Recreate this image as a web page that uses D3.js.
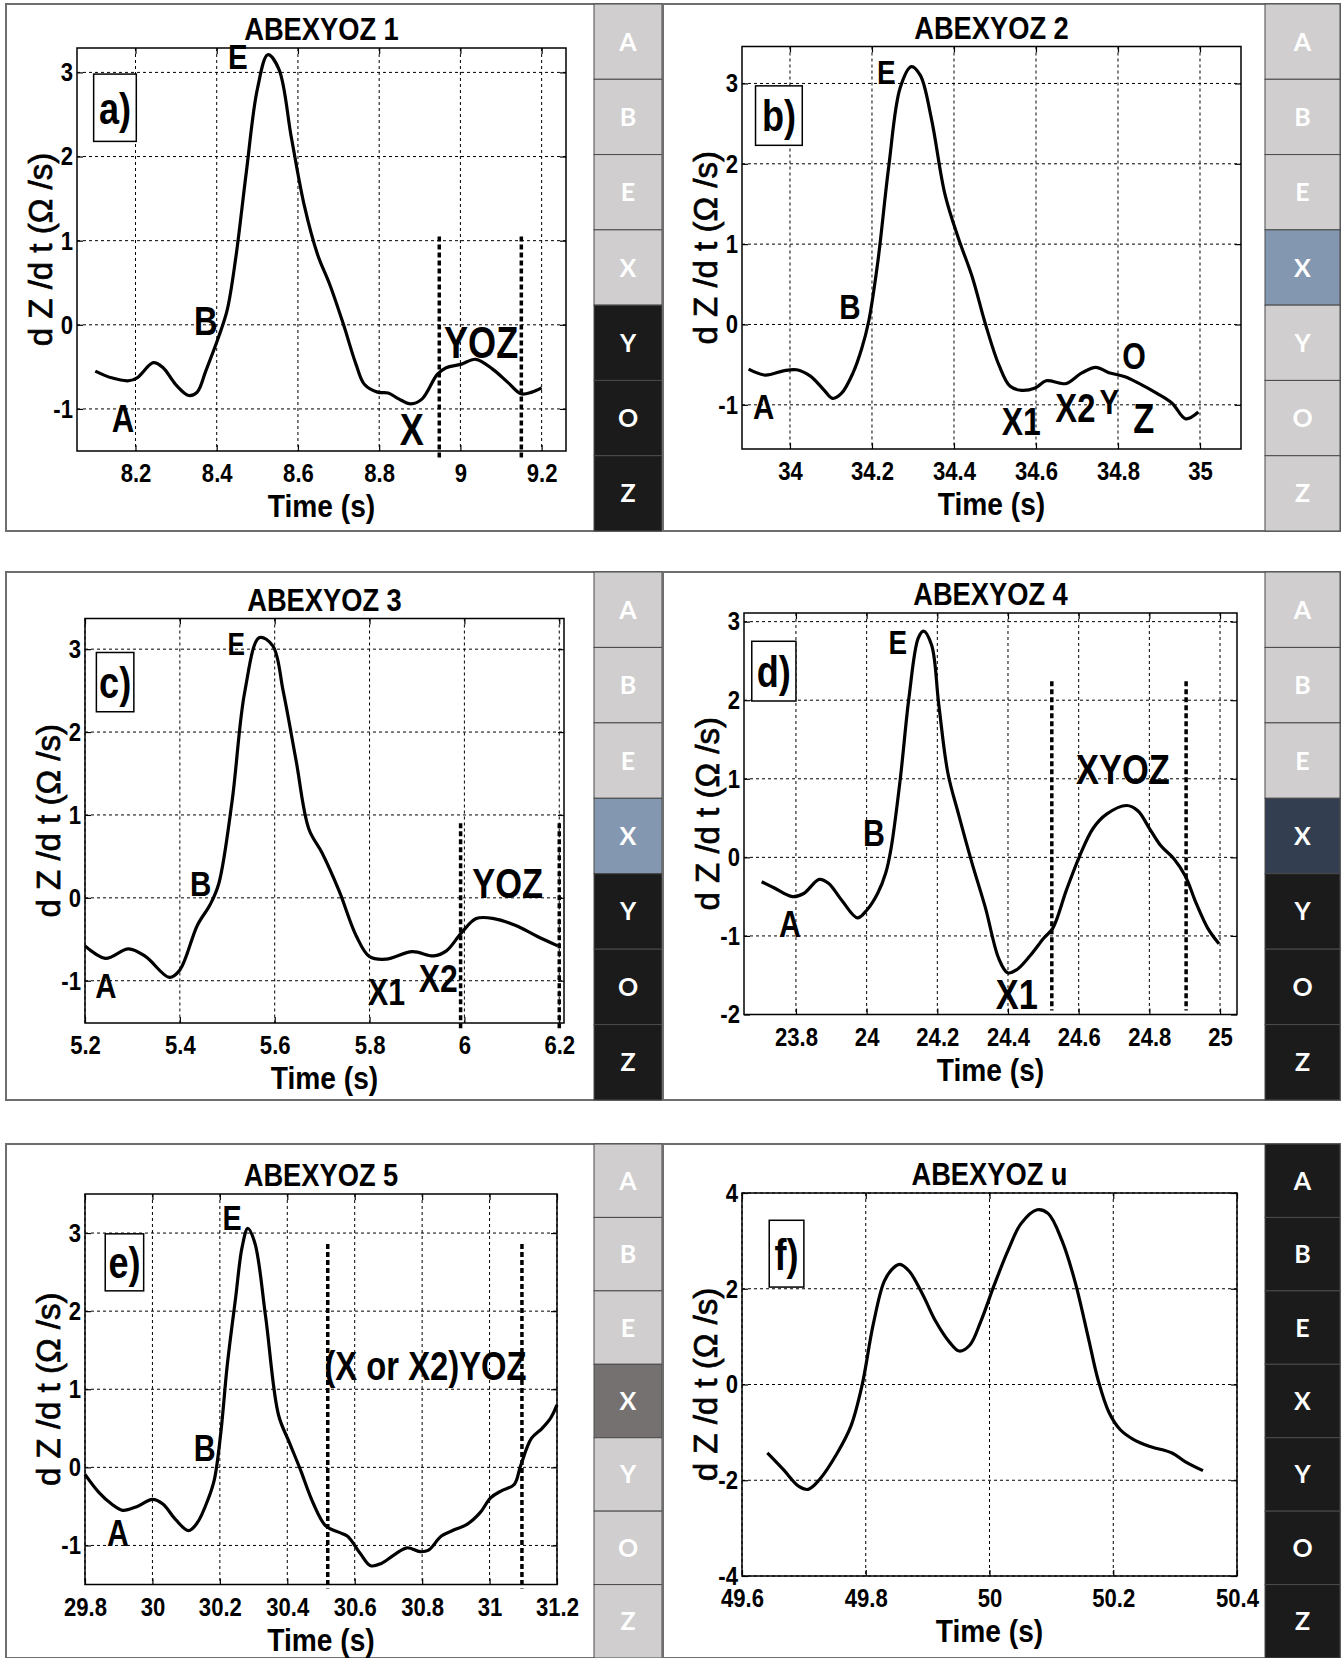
<!DOCTYPE html>
<html>
<head>
<meta charset="utf-8">
<script src="https://cdn.jsdelivr.net/npm/d3@7"></script>
<style>
  body { margin: 0; background: #fff; }
  svg { display: block; }
</style>
</head>
<body>
<div id="chart"></div>
<script>
// ---- curves (time in s, dZ/dt in ohm/s) ----
const tA = [8.101,8.141,8.183,8.204,8.244,8.268,8.299,8.331,8.352,8.373,8.405,8.426,8.447,8.473,8.5,8.526,8.553,8.584,8.616,8.648,8.679,8.711,8.743,8.764,8.796,8.822,8.848,8.878,8.906,8.943,8.965,9.001,9.038,9.08,9.118,9.149,9.176,9.2];
const zA = [-0.55,-0.63,-0.665,-0.63,-0.45,-0.51,-0.71,-0.84,-0.80,-0.55,-0.14,0.18,0.80,1.82,2.80,3.21,3.04,2.22,1.41,0.84,0.47,0.02,-0.47,-0.71,-0.80,-0.81,-0.88,-0.94,-0.88,-0.59,-0.51,-0.47,-0.41,-0.53,-0.69,-0.82,-0.80,-0.75];

const tB = [33.899,33.94,33.984,34.016,34.049,34.082,34.104,34.126,34.154,34.175,34.192,34.214,34.241,34.269,34.296,34.318,34.345,34.378,34.411,34.444,34.477,34.51,34.537,34.565,34.598,34.625,34.658,34.674,34.713,34.746,34.778,34.817,34.85,34.894,34.932,34.965,34.996];
const zB = [-0.556,-0.63,-0.577,-0.564,-0.64,-0.81,-0.92,-0.855,-0.60,-0.30,0.04,0.77,1.97,2.95,3.21,3.10,2.56,1.62,1.07,0.60,0.0,-0.51,-0.77,-0.82,-0.79,-0.70,-0.73,-0.735,-0.60,-0.534,-0.60,-0.65,-0.73,-0.855,-0.98,-1.175,-1.09];

const tC = [5.2,5.243,5.292,5.328,5.378,5.4,5.437,5.464,5.482,5.51,5.537,5.568,5.596,5.618,5.645,5.672,5.7,5.736,5.772,5.8,5.835,5.89,5.935,5.962,5.994,6.025,6.062,6.107,6.152,6.197];
const zC = [-0.58,-0.73,-0.615,-0.71,-0.96,-0.87,-0.33,-0.08,0.17,1.16,2.49,3.14,3.04,2.49,1.66,0.83,0.54,0.08,-0.46,-0.71,-0.74,-0.65,-0.7,-0.64,-0.42,-0.25,-0.25,-0.33,-0.46,-0.58];

const tD = [23.703,23.739,23.79,23.822,23.866,23.892,23.93,23.974,23.999,24.031,24.054,24.069,24.095,24.12,24.146,24.161,24.184,24.204,24.23,24.26,24.298,24.336,24.374,24.399,24.425,24.463,24.501,24.527,24.565,24.603,24.641,24.679,24.736,24.768,24.8,24.832,24.87,24.902,24.933,24.965,24.997];
const zD = [-0.31,-0.39,-0.50,-0.46,-0.28,-0.33,-0.55,-0.77,-0.68,-0.46,-0.20,0.11,0.99,2.04,2.79,2.88,2.70,1.95,1.07,0.55,-0.07,-0.64,-1.29,-1.47,-1.43,-1.25,-1.03,-0.90,-0.42,0.02,0.37,0.55,0.66,0.59,0.37,0.15,-0.02,-0.24,-0.59,-0.90,-1.10];

const tE = [29.8,29.841,29.879,29.911,29.955,30.0,30.031,30.069,30.107,30.133,30.165,30.184,30.203,30.222,30.247,30.266,30.283,30.304,30.336,30.374,30.406,30.438,30.476,30.514,30.552,30.578,30.616,30.647,30.679,30.717,30.755,30.794,30.819,30.857,30.895,30.933,30.972,31.003,31.035,31.073,31.092,31.124,31.156,31.181,31.2];
const zE = [-0.09,-0.32,-0.47,-0.55,-0.50,-0.41,-0.47,-0.67,-0.81,-0.71,-0.41,-0.15,0.45,1.31,2.18,2.82,3.06,2.87,1.92,0.67,0.32,-0.02,-0.45,-0.75,-0.83,-0.88,-1.10,-1.26,-1.23,-1.12,-1.03,-1.08,-1.06,-0.88,-0.80,-0.73,-0.58,-0.39,-0.30,-0.22,0.02,0.37,0.50,0.63,0.80];

const tF = [49.641,49.667,49.692,49.707,49.725,49.754,49.776,49.794,49.812,49.83,49.845,49.855,49.87,49.892,49.913,49.935,49.951,49.968,49.986,50.008,50.03,50.051,50.077,50.095,50.117,50.138,50.16,50.175,50.193,50.211,50.233,50.258,50.295,50.316,50.345];
const zF = [-1.43,-1.78,-2.13,-2.19,-1.99,-1.43,-0.87,-0.02,1.25,2.16,2.44,2.51,2.37,1.88,1.32,0.89,0.70,0.82,1.32,2.09,2.80,3.36,3.65,3.57,3.01,2.16,0.96,0.12,-0.58,-0.94,-1.15,-1.29,-1.43,-1.61,-1.80];

// ---- titles and tick labels ----
const titles = ["ABEXYOZ 1", "ABEXYOZ 2", "ABEXYOZ 3", "ABEXYOZ 4", "ABEXYOZ 5", "ABEXYOZ u"];
const tags = ["a)", "b)", "c)", "d)", "e)", "f)"];
const xTicksA = [8.2, 8.4, 8.6, 8.8, 9, 9.2];
const xTicksB = [34, 34.2, 34.4, 34.6, 34.8, 35];
const xTicksC = [5.2, 5.4, 5.6, 5.8, 6, 6.2];
const xTicksD = [23.8, 24, 24.2, 24.4, 24.6, 24.8, 25];
const xTicksE = [29.8, 30, 30.2, 30.4, 30.6, 30.8, 31, 31.2];
const xTicksF = [49.6, 49.8, 50, 50.2, 50.4];
const yTicks3 = [-1, 0, 1, 2, 3];
const yTicksD = [-2, -1, 0, 1, 2, 3];
const yTicksF = [-4, -2, 0, 2, 4];

// ---- point labels: [text, time, dZ/dt] (text baseline) ----
const notesA = [["E", 8.452, 3.04], ["B", 8.373, -0.12], ["A", 8.169, -1.27], ["X", 8.88, -1.43], ["YOZ", 9.051, -0.39]];
const notesB = [["E", 34.235, 2.99], ["B", 34.146, 0.064], ["A", 33.936, -1.175], ["X1", 34.564, -1.37], ["X2", 34.696, -1.22], ["Y", 34.779, -1.11], ["O", 34.839, -0.556], ["Z", 34.863, -1.346]];
const notesC = [["E", 5.519, 2.93], ["B", 5.444, 0.02], ["A", 5.244, -1.21], ["X1", 5.836, -1.29], ["X2", 5.945, -1.14], ["YOZ", 6.091, 0.0]];
const notesD = [["E", 24.088, 2.59], ["B", 24.021, 0.15], ["A", 23.783, -1.01], ["X1", 24.425, -1.93], ["XYOZ", 24.725, 0.94]];
const notesE = [["E", 30.236, 3.04], ["B", 30.155, 0.086], ["A", 29.898, -1.01], ["(X or X2)YOZ", 30.81, 1.12]];
const notesF = [];

// ---- vertical interval markers: times, and the dZ/dt span they cover ----
const marksA = [8.948, 9.15],   spanA = [1.05, -1.58];
const marksC = [5.992, 6.2],    spanC = [0.9, -1.6];
const marksD = [24.524, 24.904], spanD = [2.24, -1.95];
const marksE = [30.52, 31.096], spanE = [2.86, -1.55];

// ---- panel tag boxes: [t0, t1, z0, z1] ----
const tagBoxA = [8.097, 8.202, 2.98, 2.18];
const tagBoxB = [33.916, 34.03, 2.97, 2.23];
const tagBoxC = [5.224, 5.303, 2.96, 2.245];
const tagBoxD = [23.675, 23.8, 2.75, 1.99];
const tagBoxE = [29.86, 29.974, 2.99, 2.26];
const tagBoxF = [49.644, 49.7, 3.43, 2.035];

// ---- ABEXYOZ side strips: state of each letter ----
const stripLetters = ["A", "B", "E", "X", "Y", "O", "Z"];
const stripA = ["off", "off", "off", "off", "on", "on", "on"];
const stripB = ["off", "off", "off", "blue", "off", "off", "off"];
const stripC = ["off", "off", "off", "blue", "on", "on", "on"];
const stripD = ["off", "off", "off", "navy", "on", "on", "on"];
const stripE = ["off", "off", "off", "grey", "off", "off", "off"];
const stripF = ["on", "on", "on", "on", "on", "on", "on"];

// ---- styling / layout ----
const stateColor = { off: "#d0cece", on: "#1b1b1b", blue: "#8497b0", navy: "#333f50", grey: "#767171" };
// no Arial Narrow installed: squeeze Liberation Sans Bold horizontally
const NARROW = "'Liberation Sans', Arial, sans-serif";
const SQUEEZE = 0.82;
const noteSizes = {
  a: [36, 40, 38, 44, 44],
  b: [34, 36, 36, 39, 40, 36, 37, 42],
  c: [32, 36, 36, 37, 39, 42],
  d: [34, 37, 37, 42, 42],
  e: [35, 37, 37, 40],
  f: []
};

const panels = [
  { id: "a", t: tA, z: zA, xTicks: xTicksA, yTicks: yTicks3, xDomain: [8.056, 9.26], yDomain: [-1.5, 3.29],
    notes: notesA, marks: marksA, span: spanA, tagBox: tagBoxA, strip: stripA,
    frame: [6, 4, 662, 531], stripX: 594, plot: [77, 48, 566, 451] },
  { id: "b", t: tB, z: zB, xTicks: xTicksB, yTicks: yTicks3, xDomain: [33.883, 35.1], yDomain: [-1.55, 3.46],
    notes: notesB, marks: [], span: null, tagBox: tagBoxB, strip: stripB,
    frame: [663, 4, 1340, 531], stripX: 1265, plot: [742, 46.5, 1241, 449] },
  { id: "c", t: tC, z: zC, xTicks: xTicksC, yTicks: yTicks3, xDomain: [5.2, 6.21], yDomain: [-1.51, 3.37],
    notes: notesC, marks: marksC, span: spanC, tagBox: tagBoxC, strip: stripC,
    frame: [6, 572, 662, 1100], stripX: 594, plot: [85, 618.5, 564, 1023] },
  { id: "d", t: tD, z: zD, xTicks: xTicksD, yTicks: yTicksD, xDomain: [23.653, 25.048], yDomain: [-2, 3.11],
    notes: notesD, marks: marksD, span: spanD, tagBox: tagBoxD, strip: stripD,
    frame: [663, 572, 1340, 1100], stripX: 1265, plot: [744, 613, 1237, 1014.5] },
  { id: "e", t: tE, z: zE, xTicks: xTicksE, yTicks: yTicks3, xDomain: [29.8, 31.2], yDomain: [-1.5, 3.5],
    notes: notesE, marks: marksE, span: spanE, tagBox: tagBoxE, strip: stripE,
    frame: [6, 1144, 662, 1658], stripX: 594, plot: [85, 1194, 557, 1584.5] },
  { id: "f", t: tF, z: zF, xTicks: xTicksF, yTicks: yTicksF, xDomain: [49.6, 50.4], yDomain: [-4, 4],
    notes: notesF, marks: [], span: null, tagBox: tagBoxF, strip: stripF,
    frame: [663, 1144, 1340, 1658], stripX: 1265, plot: [742, 1193, 1237, 1576] }
];

const W = 1344, H = 1658;
const svg = d3.select("#chart").append("svg")
  .attr("width", W)
  .attr("height", H)
  .style("background", "#fff");

const fmtX = d => String(+d.toFixed(1));

// bold condensed text placed at (x, y)
function narrowText(parent, x, y, size, str, squeeze = SQUEEZE) {
  return parent.append("text")
    .attr("transform", `translate(${x},${y}) scale(${squeeze},1)`)
    .attr("text-anchor", "middle")
    .attr("font-family", NARROW)
    .attr("font-weight", "bold")
    .attr("font-size", size)
    .attr("fill", "#000")
    .text(str);
}

panels.forEach((p, i) => {
  const [fx0, fy0, fx1, fy1] = p.frame;
  const [L, T, R, B] = p.plot;
  const g = svg.append("g").attr("class", "panel-" + p.id);

  // panel frame
  g.append("rect")
    .attr("x", fx0).attr("y", fy0)
    .attr("width", fx1 - fx0).attr("height", fy1 - fy0)
    .attr("fill", "#fff")
    .attr("stroke", "#6e6e6e")
    .attr("stroke-width", 2);

  // side strip
  const cellH = (fy1 - fy0) / stripLetters.length;
  const cells = g.append("g").selectAll("g")
    .data(stripLetters.map((l, k) => ({ letter: l, state: p.strip[k], k })))
    .join("g");
  cells.append("rect")
    .attr("x", p.stripX)
    .attr("y", d => fy0 + d.k * cellH)
    .attr("width", fx1 - p.stripX)
    .attr("height", cellH)
    .attr("fill", d => stateColor[d.state])
    .attr("stroke", "#4a4a4a")
    .attr("stroke-width", 1);
  cells.append("text")
    .attr("x", (p.stripX + fx1) / 2)
    .attr("y", d => fy0 + (d.k + 0.5) * cellH)
    .attr("dy", "0.36em")
    .attr("text-anchor", "middle")
    .attr("font-family", "Lato, 'Open Sans', sans-serif")
    .attr("font-weight", "bold")
    .attr("font-size", 25)
    .attr("fill", "#fff")
    .text(d => d.letter);

  const x = d3.scaleLinear().domain(p.xDomain).range([L, R]);
  const y = d3.scaleLinear().domain(p.yDomain).range([B, T]);

  // grid
  const grid = g.append("g").attr("stroke", "#000").attr("stroke-width", 1).attr("stroke-dasharray", "3,3");
  grid.selectAll(".gx").data(p.xTicks).join("line")
    .attr("x1", d => x(d)).attr("x2", d => x(d))
    .attr("y1", T).attr("y2", B);
  grid.selectAll(".gy").data(p.yTicks).join("line")
    .attr("x1", L).attr("x2", R)
    .attr("y1", d => y(d)).attr("y2", d => y(d));

  // axes (inward ticks, MATLAB box style)
  const ax = g.append("g")
    .attr("transform", `translate(0,${B})`)
    .call(d3.axisBottom(x).tickValues(p.xTicks).tickSizeInner(-6).tickSizeOuter(0).tickPadding(13).tickFormat(fmtX));
  const ay = g.append("g")
    .attr("transform", `translate(${L},0)`)
    .call(d3.axisLeft(y).tickValues(p.yTicks).tickSizeInner(-6).tickSizeOuter(0).tickPadding(4).tickFormat(d => String(d)));
  g.append("g")
    .attr("transform", `translate(0,${T})`)
    .call(d3.axisTop(x).tickValues(p.xTicks).tickSizeInner(-6).tickSizeOuter(0).tickFormat(""));
  g.append("g")
    .attr("transform", `translate(${R},0)`)
    .call(d3.axisRight(y).tickValues(p.yTicks).tickSizeInner(-6).tickSizeOuter(0).tickFormat(""));
  g.selectAll(".domain").remove();
  g.selectAll(".tick line").attr("stroke", "#000").attr("stroke-width", 1.2);
  const tickSqueeze = 0.85;
  [ax, ay].forEach(a => a.selectAll("text")
    .attr("font-family", NARROW)
    .attr("font-weight", "bold")
    .attr("font-size", 26)
    .attr("fill", "#000")
    .attr("transform", `scale(${tickSqueeze},1)`));
  ay.selectAll("text").attr("x", -4 / tickSqueeze);

  // plot box
  g.append("rect")
    .attr("x", L).attr("y", T)
    .attr("width", R - L).attr("height", B - T)
    .attr("fill", "none")
    .attr("stroke", "#000")
    .attr("stroke-width", 1.5);

  // curve
  const pts = p.t.map((t, k) => [t, p.z[k]]);
  g.append("path")
    .datum(pts)
    .attr("fill", "none")
    .attr("stroke", "#000")
    .attr("stroke-width", 3.2)
    .attr("stroke-linejoin", "round")
    .attr("d", d3.line().x(d => x(d[0])).y(d => y(d[1])).curve(d3.curveCatmullRom.alpha(0.5)));

  // interval markers
  g.selectAll(".mark").data(p.marks).join("line")
    .attr("x1", d => x(d)).attr("x2", d => x(d))
    .attr("y1", () => y(p.span[0])).attr("y2", () => y(p.span[1]))
    .attr("stroke", "#000")
    .attr("stroke-width", 3.5)
    .attr("stroke-dasharray", "5,3");

  // point labels
  p.notes.forEach((d, k) => narrowText(g, x(d[1]), y(d[2]), noteSizes[p.id][k], d[0]));

  // tag box
  const [bt0, bt1, bz0, bz1] = p.tagBox;
  g.append("rect")
    .attr("x", x(bt0)).attr("y", y(bz0))
    .attr("width", x(bt1) - x(bt0)).attr("height", y(bz1) - y(bz0))
    .attr("fill", "#fff")
    .attr("stroke", "#000")
    .attr("stroke-width", 1.5);
  narrowText(g, (x(bt0) + x(bt1)) / 2, (y(bz0) + y(bz1)) / 2, 44, tags[i]).attr("dy", "0.36em");

  // title
  narrowText(g, (L + R) / 2, T - 8, 31, titles[i], 0.88);

  // x label
  narrowText(g, (L + R) / 2, B + 66, 32, "Time (s)", 0.88);

  // y label
  g.append("text")
    .attr("transform", `translate(${L - 37},${(T + B) / 2}) rotate(-90)`)
    .attr("dy", "0.36em")
    .attr("text-anchor", "middle")
    .attr("font-family", "'Liberation Sans', Arial, sans-serif")
    .attr("font-size", 33)
    .attr("stroke", "#000")
    .attr("stroke-width", 0.7)
    .text("d Z /d t (\u03A9 /s)");
});
</script>
</body>
</html>
